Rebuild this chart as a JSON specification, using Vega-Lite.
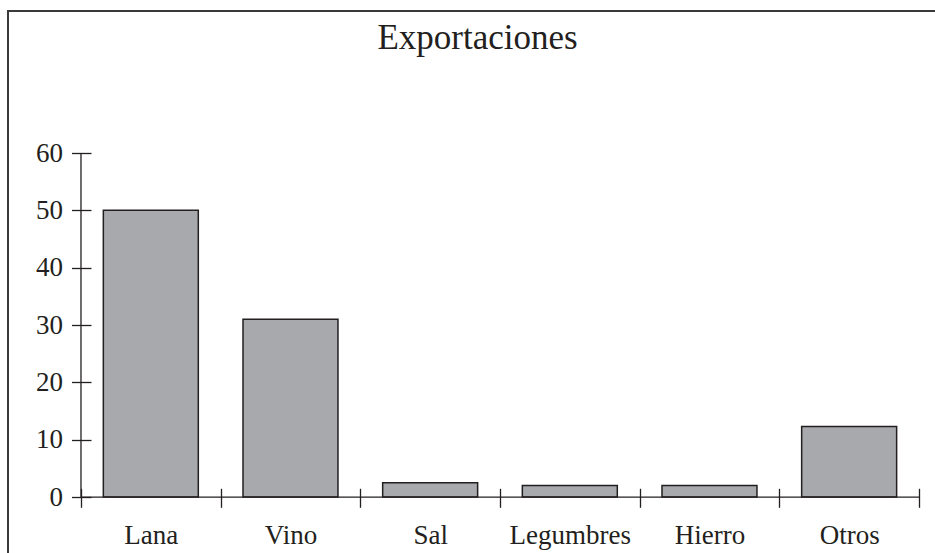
{
  "$schema": "https://vega.github.io/schema/vega-lite/v6.json",
  "width": 929,
  "height": 544,
  "autosize": {"type": "none"},
  "padding": {"left": 8, "top": 11, "right": -2, "bottom": -2},
  "background": "white",
  "config": {
    "view": {"stroke": "#3a3a3a", "strokeWidth": 2},
    "font": "Liberation Serif"
  },
  "title": {
    "text": "Exportaciones",
    "font": "Liberation Serif",
    "fontSize": 35,
    "fontWeight": "normal",
    "color": "#231f20",
    "anchor": "middle",
    "frame": "group",
    "baseline": "alphabetic",
    "offset": -38,
    "dx": 5,
    "dy": 35
  },
  "data": {
    "values": [
      {"producto": "Lana", "valor": 50},
      {"producto": "Vino", "valor": 31},
      {"producto": "Sal", "valor": 2.5},
      {"producto": "Legumbres", "valor": 2},
      {"producto": "Hierro", "valor": 2},
      {"producto": "Otros", "valor": 12.3}
    ]
  },
  "layer": [
    {
      "mark": {"type": "bar", "fill": "#a7a9ac", "stroke": "#231f20", "strokeWidth": 1.5, "width": {"band": 0.68}},
      "encoding": {
        "x": {
          "field": "producto",
          "type": "nominal",
          "sort": null,
          "scale": {
            "domain": ["Lana", "Vino", "Sal", "Legumbres", "Hierro", "Otros"],
            "paddingInner": 0,
            "paddingOuter": 0.3258,
            "align": 0.802
          },
          "axis": {
            "title": null,
            "domain": false,
            "tickBand": "extent",
            "tickSize": 19,
            "tickColor": "#231f20",
            "tickWidth": 1.3,
            "offset": -66.7,
            "labelFont": "Liberation Serif",
            "labelFontSize": 27,
            "labelColor": "#231f20",
            "labelPadding": 15,
            "labelAngle": 0
          }
        },
        "y": {
          "field": "valor",
          "type": "quantitative",
          "scale": {"domain": [-10.11, 84.77], "nice": false, "zero": false},
          "axis": {
            "title": null,
            "domain": false,
            "grid": false,
            "values": [0, 10, 20, 30, 40, 50, 60],
            "tickSize": 19.5,
            "tickColor": "#231f20",
            "tickWidth": 1.3,
            "offset": -83,
            "labelFont": "Liberation Serif",
            "labelFontSize": 27,
            "labelColor": "#231f20",
            "labelPadding": 9
          }
        }
      }
    },
    {
      "data": {"values": [{}]},
      "mark": {"type": "rule", "stroke": "#231f20", "strokeWidth": 1.3},
      "encoding": {
        "x": {"datum": "Lana", "type": "nominal", "bandPosition": 0},
        "y": {"datum": 0, "type": "quantitative"},
        "y2": {"datum": 60}
      }
    },
    {
      "data": {"values": [{}]},
      "mark": {"type": "rule", "stroke": "#231f20", "strokeWidth": 1.3},
      "encoding": {
        "x": {"datum": "Lana", "type": "nominal", "bandPosition": 0},
        "x2": {"datum": "Otros", "bandPosition": 1},
        "y": {"datum": 0, "type": "quantitative"}
      }
    }
  ]
}
